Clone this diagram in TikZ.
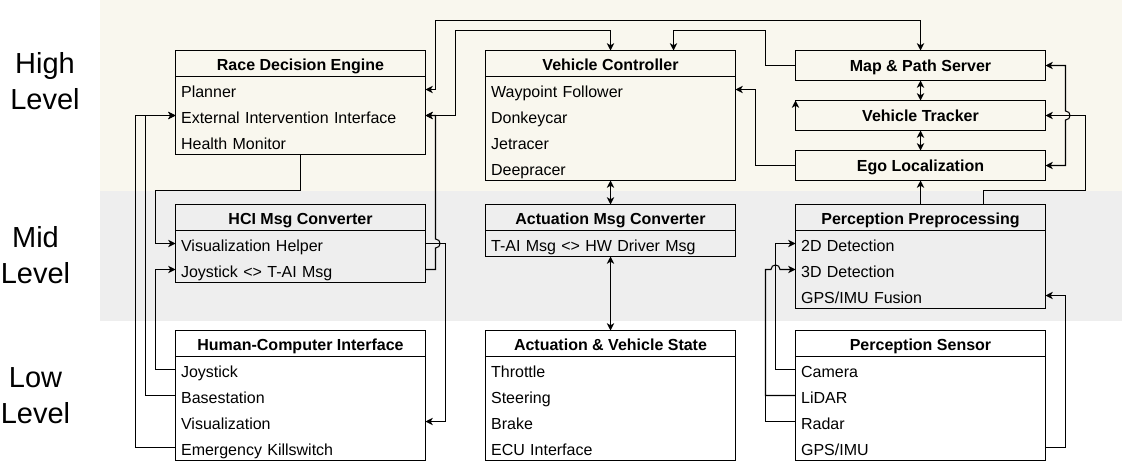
\documentclass[tikz,border=0pt]{standalone}
\usepackage{fontspec}
\setmainfont{Liberation Sans}
\usetikzlibrary{positioning,arrows.meta,calc}

\definecolor{highband}{RGB}{249,247,238}
\definecolor{midband}{RGB}{238,238,238}

\tikzset{
  head/.style={rectangle, draw, line width=0.8pt, minimum width=187.5pt, minimum height=19.5pt,
    inner sep=0pt, outer sep=0pt, text height=11.5pt, text depth=1.7pt,
    font=\bfseries\fontsize{12}{14}\selectfont},
  unit/.style={head, minimum height=22.5pt, text height=10.5pt, text depth=2.2pt},
  item/.style={rectangle, minimum width=187.5pt, minimum height=19.5pt, inner xsep=4.2pt,
    inner ysep=0pt, outer sep=0pt, text width=179.1pt, align=left,
    text height=14.8pt, text depth=2.4pt, font=\fontsize{12}{14}\selectfont},
  level/.style={align=center, font=\fontsize{21.75}{27}\selectfont},
  frame/.style={line width=0.8pt},
  link/.style={line width=0.8pt, -{Stealth[length=5.5pt,width=5.5pt,inset=1.6pt]}},
  both/.style={line width=0.8pt, {Stealth[length=5.5pt,width=5.5pt,inset=1.6pt]}-{Stealth[length=5.5pt,width=5.5pt,inset=1.6pt]}},
  wire/.style={line width=0.8pt}
}

\begin{document}
\begin{tikzpicture}[x=0.75pt,y=0.75pt,yscale=-1,xscale=1]
\useasboundingbox (0,0) rectangle (1122,471);

% level bands
\fill[highband] (100,0) rectangle (1122,190.5);
\fill[midband] (100,190.5) rectangle (1122,320.5);

\node[level] (lvHigh) at (45,81) {High\\Level};
\node[level] (lvMid) at (35.5,255.5) {Mid\\Level};
\node[level] (lvLow) at (35.5,395.5) {Low\\Level};

% high level
\node[head] (rde) at (300.5,63.5) {Race Decision Engine};
\node[item, below=0pt of rde] (rdePlan) {Planner};
\node[item, below=0pt of rdePlan] (rdeExt) {External Intervention Interface};
\node[item, below=0pt of rdeExt] (rdeHealth) {Health Monitor};
\draw[frame] (rde.north west) rectangle (rdeHealth.south east);

\node[head] (vc) at (610.5,63.5) {Vehicle Controller};
\node[item, below=0pt of vc] (vcWay) {Waypoint Follower};
\node[item, below=0pt of vcWay] (vcDonkey) {Donkeycar};
\node[item, below=0pt of vcDonkey] (vcJet) {Jetracer};
\node[item, below=0pt of vcJet] (vcDeep) {Deepracer};
\draw[frame] (vc.north west) rectangle (vcDeep.south east);

\node[unit] (mps) at (920.5,65.5) {Map \& Path Server};
\node[unit] (vt) at (920.5,115.5) {Vehicle Tracker};
\node[unit] (ego) at (920.5,165.5) {Ego Localization};

% mid level
\node[head] (hcm) at (300.5,217.5) {HCI Msg Converter};
\node[item, below=0pt of hcm] (hcmVis) {Visualization Helper};
\node[item, below=0pt of hcmVis] (hcmJoy) {Joystick <> T-AI Msg};
\draw[frame] (hcm.north west) rectangle (hcmJoy.south east);

\node[head] (amc) at (610.5,217.5) {Actuation Msg Converter};
\node[item, below=0pt of amc] (amcMsg) {T-AI Msg <> HW Driver Msg};
\draw[frame] (amc.north west) rectangle (amcMsg.south east);

\node[head] (pp) at (920.5,217.5) {Perception Preprocessing};
\node[item, below=0pt of pp] (pp2d) {2D Detection};
\node[item, below=0pt of pp2d] (pp3d) {3D Detection};
\node[item, below=0pt of pp3d] (ppGps) {GPS/IMU Fusion};
\draw[frame] (pp.north west) rectangle (ppGps.south east);

% low level
\node[head] (hci) at (300.5,343.5) {Human-Computer Interface};
\node[item, below=0pt of hci] (hciJoy) {Joystick};
\node[item, below=0pt of hciJoy] (hciBase) {Basestation};
\node[item, below=0pt of hciBase] (hciVis) {Visualization};
\node[item, below=0pt of hciVis] (hciKill) {Emergency Killswitch};
\draw[frame] (hci.north west) rectangle (hciKill.south east);

\node[head] (avs) at (610.5,343.5) {Actuation \& Vehicle State};
\node[item, below=0pt of avs] (avsThr) {Throttle};
\node[item, below=0pt of avsThr] (avsSteer) {Steering};
\node[item, below=0pt of avsSteer] (avsBrake) {Brake};
\node[item, below=0pt of avsBrake] (avsEcu) {ECU Interface};
\draw[frame] (avs.north west) rectangle (avsEcu.south east);

\node[head] (ps) at (920.5,343.5) {Perception Sensor};
\node[item, below=0pt of ps] (psCam) {Camera};
\node[item, below=0pt of psCam] (psLidar) {LiDAR};
\node[item, below=0pt of psLidar] (psRadar) {Radar};
\node[item, below=0pt of psRadar] (psGps) {GPS/IMU};
\draw[frame] (ps.north west) rectangle (psGps.south east);

% connectors, high level
\draw[both] (rdePlan.east) -- ++(10,0) -- ++(0,-69) -| (mps.north);
\draw[both] (vc.north) -- ++(0,-20) -- ++(-155,0) |- (rdeExt.east);
\draw[link] (mps.west) -- ++(-30,0) -- ++(0,-35) -| ($(vc.north)+(63,0)$);
\draw[link] (ego.west) -- ++(-40,0) |- (vcWay.east);
\draw[link] (vt.south west) -- (vt.north west);
\draw[both] (mps.south) -- (vt.north);
\draw[both] (vt.south) -- (ego.north);
\draw[both] (mps.east) -- ++(20,0) -- (1065.5,111)
  .. controls (1071.5,111) and (1071.5,120) .. (1065.5,120) |- (ego.east);

% connectors, mid level
\draw[link] ($(pp.north)+(63,0)$) -- ++(0,-14) -- ++(102,0) |- (vt.east);
\draw[link] (pp.north) -- (ego.south);
\draw[both] (vcDeep.south) -- (amc.north);
\draw[both] (amcMsg.south) -- (avs.north);
\draw[link] (rdeHealth.south) -- ++(0,36) -- ++(-145,0) |- (hcmVis.west);
\draw[link] (hcmJoy.east) -- ++(10,0) -- (435.5,248)
  .. controls (441.5,248) and (441.5,239) .. (435.5,239) |- (rdeExt.east);
\draw[link] (hcmVis.east) -- ++(20,0) |- (hciVis.east);

% connectors, low level
\draw[link] (hciJoy.west) -- ++(-20,0) |- (hcmJoy.west);
\draw[link] (hciBase.west) -- ++(-30,0) |- (rdeExt.west);
\draw[link] (hciKill.west) -- ++(-40,0) |- (rdeExt.west);
\draw[link] (psCam.west) -- ++(-20,0) |- (pp2d.west);
\draw[link] (psLidar.west) -- ++(-30,0) -- (765.5,269.5) -- (771,269.5)
  .. controls (771,263.5) and (780,263.5) .. (780,269.5) -- (pp3d.west);
\draw[wire] (psRadar.west) -- ++(-30,0) |- (psLidar.west);
\draw[link] (psGps.east) -- ++(20,0) |- (ppGps.east);

\end{tikzpicture}
\end{document}
